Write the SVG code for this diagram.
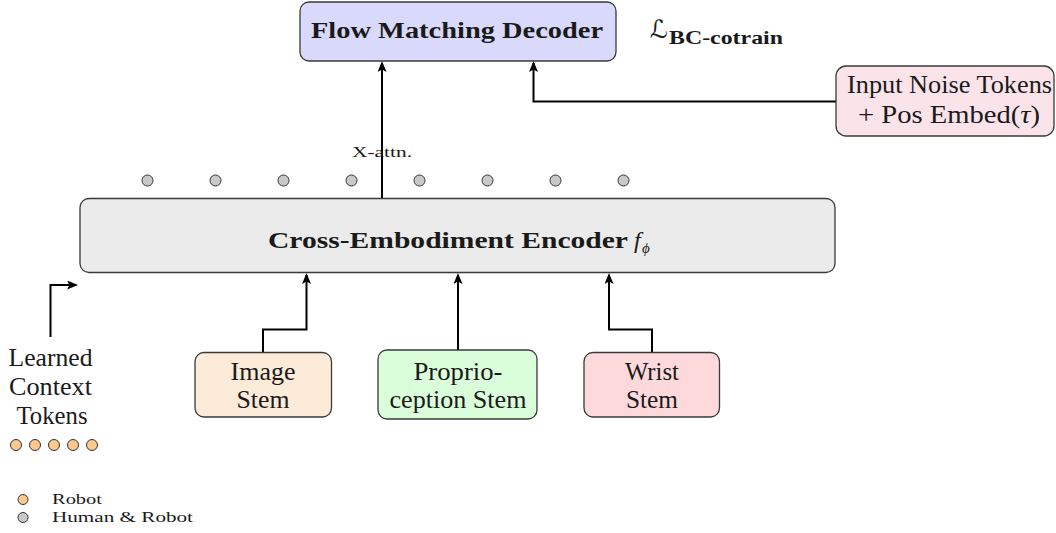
<svg xmlns="http://www.w3.org/2000/svg" width="1056" height="533" viewBox="0 0 1056 533">
<defs>
<style>
.box{stroke:#3a3a3a;stroke-width:1.3}
.t{font-family:"Liberation Serif","Times New Roman",serif;fill:#1a1a1a}
.tb{font-family:"Liberation Serif","Times New Roman",serif;font-weight:bold;fill:#1a1a1a}
.lbl{font-size:25px;text-anchor:middle}
.conn{fill:none;stroke:#000;stroke-width:2}
.gdot{fill:#c8c8c8;stroke:#333;stroke-width:1}
.odot{fill:#fcc890;stroke:#333;stroke-width:1}
</style>
<marker id="arr" markerUnits="userSpaceOnUse" markerWidth="12" markerHeight="10" refX="9" refY="4.5" orient="auto">
<path d="M0,0 L11,4.5 L0,9 L2.5,4.5 z" fill="#000"/>
</marker>
</defs>
<rect width="1056" height="533" fill="#fff"/>

<g id="connectors">
<path class="conn" d="M382 198 V63" marker-end="url(#arr)"/>
<path class="conn" d="M836 101.5 H533.5 V63" marker-end="url(#arr)"/>
<path class="conn" d="M263 352.5 V329.5 H306.5 V275" marker-end="url(#arr)"/>
<path class="conn" d="M458 350 V275" marker-end="url(#arr)"/>
<path class="conn" d="M652 352.5 V329.5 H609 V275" marker-end="url(#arr)"/>
<path class="conn" d="M50.5 337 V285 H76" marker-end="url(#arr)"/>
</g>

<g id="decoder">
<rect class="box" x="300" y="2" width="316" height="59" rx="9" fill="#d9d9fc"/>
<text class="tb" x="311" y="38" font-size="24" textLength="292" lengthAdjust="spacingAndGlyphs">Flow Matching Decoder</text>
</g>

<g id="loss">
<text x="650" y="38" font-family="DejaVu Sans,sans-serif" font-size="25" fill="#1a1a1a">ℒ</text>
<text class="tb" x="669" y="44" font-size="18" textLength="114" lengthAdjust="spacingAndGlyphs">BC-cotrain</text>
</g>

<g id="noise">
<rect class="box" x="836" y="66" width="218" height="70" rx="10" fill="#fae4ea"/>
<text class="t" x="847" y="93" font-size="25" textLength="205" lengthAdjust="spacingAndGlyphs">Input Noise Tokens</text>
<text class="t" x="858" y="123" font-size="25" textLength="182" lengthAdjust="spacingAndGlyphs">+ Pos Embed(<tspan font-style="italic">τ</tspan>)</text>
</g>

<g id="xattn">
<text class="t" x="352" y="157" font-size="15" textLength="60" lengthAdjust="spacingAndGlyphs">X-attn.</text>
</g>

<g id="tokens">
<circle class="gdot" cx="147.5" cy="180.5" r="5.5"/>
<circle class="gdot" cx="215.5" cy="180.5" r="5.5"/>
<circle class="gdot" cx="283.5" cy="180.5" r="5.5"/>
<circle class="gdot" cx="351.5" cy="180.5" r="5.5"/>
<circle class="gdot" cx="419.5" cy="180.5" r="5.5"/>
<circle class="gdot" cx="487.5" cy="180.5" r="5.5"/>
<circle class="gdot" cx="555.5" cy="180.5" r="5.5"/>
<circle class="gdot" cx="623.5" cy="180.5" r="5.5"/>
</g>

<g id="encoder">
<rect class="box" x="80" y="198.5" width="755" height="74" rx="9" fill="#ebebeb"/>
<text class="tb" x="268" y="248" font-size="24" textLength="360" lengthAdjust="spacingAndGlyphs">Cross-Embodiment Encoder</text>
<text class="t" x="634" y="248" font-size="24" font-style="italic">f</text>
<text class="t" x="642" y="253" font-size="15" font-style="italic">ϕ</text>
</g>

<g id="image-stem">
<rect class="box" x="195" y="352.5" width="136.5" height="64.5" rx="9" fill="#fdebd9"/>
<text class="t lbl" x="263" y="380" textLength="65" lengthAdjust="spacingAndGlyphs">Image</text>
<text class="t lbl" x="263" y="408" textLength="53" lengthAdjust="spacingAndGlyphs">Stem</text>
</g>

<g id="proprio-stem">
<rect class="box" x="378" y="350" width="159" height="69" rx="9" fill="#dafdda"/>
<text class="t lbl" x="458" y="380" textLength="89" lengthAdjust="spacingAndGlyphs">Proprio-</text>
<text class="t lbl" x="458" y="408" textLength="137" lengthAdjust="spacingAndGlyphs">ception Stem</text>
</g>

<g id="wrist-stem">
<rect class="box" x="584" y="352.5" width="135.5" height="64.5" rx="9" fill="#fdd9dc"/>
<text class="t lbl" x="652" y="380" textLength="54" lengthAdjust="spacingAndGlyphs">Wrist</text>
<text class="t lbl" x="652" y="408" textLength="52" lengthAdjust="spacingAndGlyphs">Stem</text>
</g>

<g id="learned-context">
<text class="t lbl" x="50.5" y="366" textLength="84" lengthAdjust="spacingAndGlyphs">Learned</text>
<text class="t lbl" x="50.5" y="395" textLength="83" lengthAdjust="spacingAndGlyphs">Context</text>
<text class="t lbl" x="52" y="424" textLength="71" lengthAdjust="spacingAndGlyphs">Tokens</text>
<circle class="odot" cx="16" cy="445" r="5.5"/>
<circle class="odot" cx="35" cy="445" r="5.5"/>
<circle class="odot" cx="54" cy="445" r="5.5"/>
<circle class="odot" cx="73" cy="445" r="5.5"/>
<circle class="odot" cx="92" cy="445" r="5.5"/>
</g>

<g id="legend">
<circle class="odot" cx="23" cy="499.5" r="5"/>
<text class="t" x="52" y="504" font-size="14" textLength="50" lengthAdjust="spacingAndGlyphs">Robot</text>
<circle class="gdot" cx="23" cy="517.5" r="5"/>
<text class="t" x="52" y="522" font-size="14" textLength="141" lengthAdjust="spacingAndGlyphs">Human &amp; Robot</text>
</g>
</svg>
